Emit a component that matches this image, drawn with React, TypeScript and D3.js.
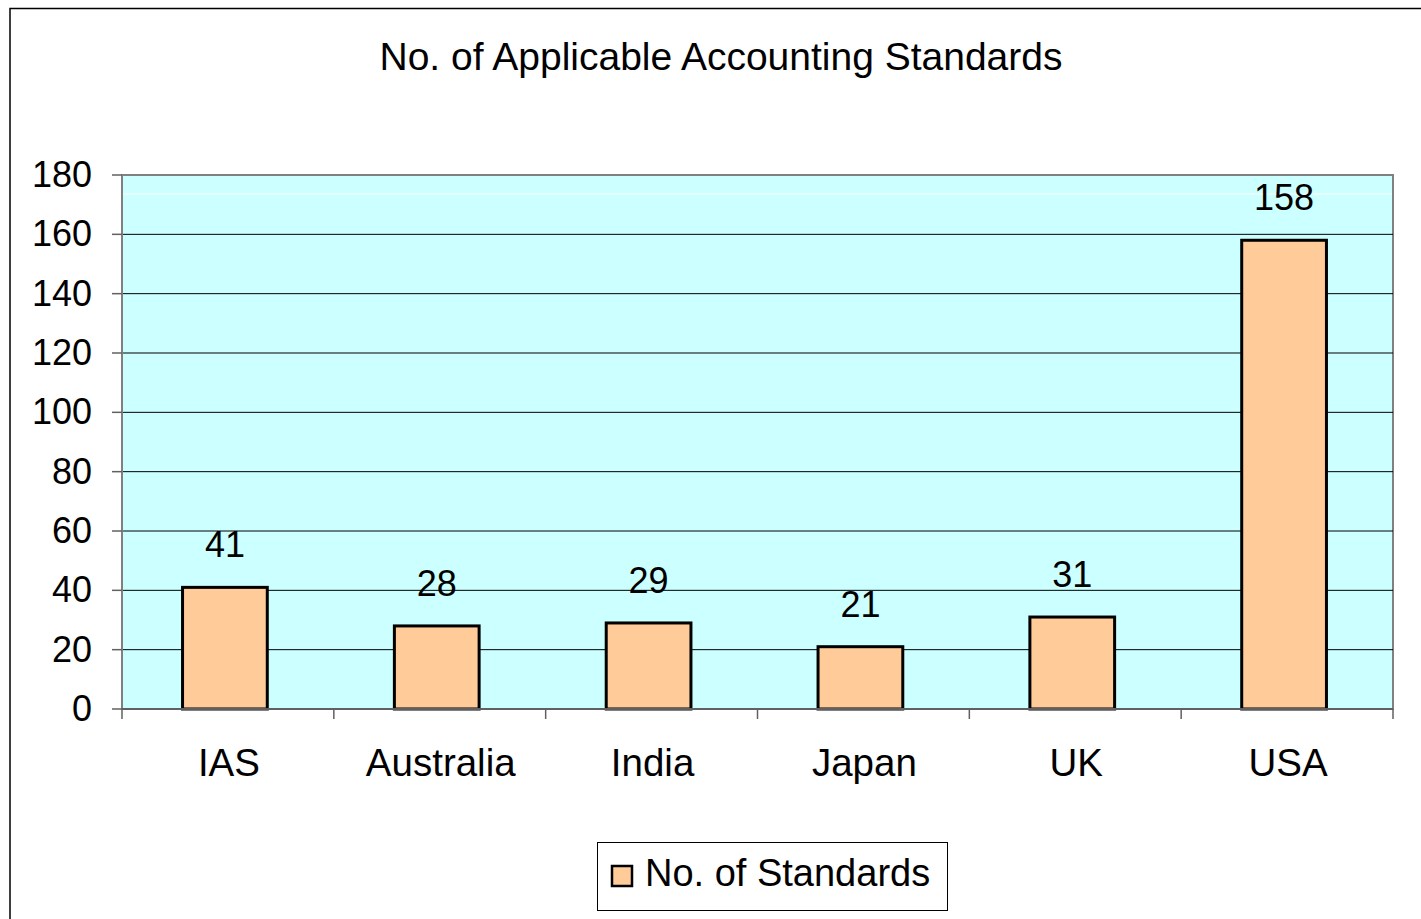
import React from "react";
import * as d3 from "d3";

const categories = ["IAS", "Australia", "India", "Japan", "UK", "USA"];
const standards = [41, 28, 29, 21, 31, 158];
const yTicks = [0, 20, 40, 60, 80, 100, 120, 140, 160, 180];
const seriesName = "No. of Standards";
const title = "No. of Applicable Accounting Standards";

const W = 1421;
const H = 919;
const plot = { left: 122, top: 175, right: 1393, bottom: 709 };
const font = "'Liberation Sans', Arial, sans-serif";

export default function App() {
    const x = d3.scaleBand<string>()
        .domain(categories)
        .range([plot.left - 3, plot.right - 3])
        .paddingInner(0.6)
        .paddingOuter(0.3);
    const band = d3.scaleBand<string>().domain(categories).range([plot.left, plot.right]);
    const y = d3.scaleLinear().domain([0, 180]).range([plot.bottom, plot.top]);

    const catEdges = categories.map(c => band(c)!).concat([plot.right]);

    return (
        <svg width={W} height={H} style={{ position: "absolute", left: 0, top: 0 }} fontFamily={font}>
            <rect x={0} y={0} width={W} height={H} fill="#fff" />
            <rect x={10} y={8.5} width={1440} height={940} fill="#fff" stroke="#000" strokeWidth={1.5} />
            <text x={721} y={70} textAnchor="middle" fontSize={39} fill="#000">{title}</text>

            <rect x={plot.left} y={plot.top} width={plot.right - plot.left} height={plot.bottom - plot.top}
                fill="#CCFFFF" stroke="#808080" strokeWidth={2} />
            <line x1={plot.left + 1} x2={plot.right - 1} y1={194} y2={194} stroke="#fff" strokeWidth={1} />
            {yTicks.filter(t => t > 0 && t < 180).map(t => (
                <line key={t} x1={plot.left} x2={plot.right} y1={y(t)} y2={y(t)} stroke="#000" strokeWidth={1} />
            ))}

            {/* y axis */}
            <line x1={plot.left} x2={plot.left} y1={plot.top} y2={plot.bottom} stroke="#808080" strokeWidth={2} />
            {yTicks.map(t => (
                <g key={t}>
                    <line x1={plot.left - 10} x2={plot.left} y1={y(t)} y2={y(t)} stroke="#606060" strokeWidth={1.5} />
                    <text x={92} y={y(t)} dy="0.33em" textAnchor="end" fontSize={36} fill="#000">{t}</text>
                </g>
            ))}

            {/* bars */}
            {categories.map((c, i) => (
                <g key={c}>
                    <rect x={x(c)} y={y(standards[i])} width={x.bandwidth()} height={plot.bottom - y(standards[i])}
                        fill="#FFCC99" stroke="#000" strokeWidth={3} />
                    <text x={x(c)! + x.bandwidth() / 2} y={y(standards[i]) - 30} textAnchor="middle" fontSize={36} fill="#000">
                        {standards[i]}
                    </text>
                </g>
            ))}

            {/* x axis */}
            <line x1={plot.left} x2={plot.right} y1={plot.bottom} y2={plot.bottom} stroke="#606060" strokeWidth={2} />
            {catEdges.map((e, i) => (
                <line key={i} x1={e} x2={e} y1={plot.bottom} y2={plot.bottom + 10} stroke="#606060" strokeWidth={1.5} />
            ))}
            {categories.map(c => (
                <text key={c} x={band(c)! + band.bandwidth() / 2 + 1} y={776} textAnchor="middle" fontSize={38.5} fill="#000">{c}</text>
            ))}

            {/* legend */}
            <rect x={597.5} y={842.5} width={350} height={68} fill="#fff" stroke="#000" strokeWidth={1} />
            <rect x={612} y={866} width={20} height={20} fill="#FFCC99" stroke="#000" strokeWidth={2.5} />
            <text x={645} y={886} fontSize={38} fill="#000">{seriesName}</text>
        </svg>
    );
}
